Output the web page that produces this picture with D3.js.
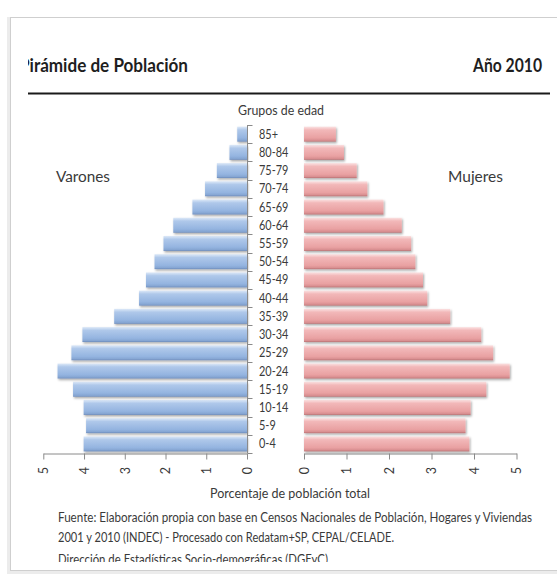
<!DOCTYPE html>
<html>
<head>
<meta charset="utf-8">
<script src="https://cdn.jsdelivr.net/npm/d3@7/dist/d3.min.js"></script>
<style>
  html, body { margin: 0; padding: 0; background: #ffffff; }
  svg { display: block; font-family: Lato, "Open Sans", sans-serif; }
</style>
</head>
<body>
<svg id="chart" width="557" height="574"></svg>
<script>
// Age groups, bottom to top
const ageGroups = ["0-4", "5-9", "10-14", "15-19", "20-24", "25-29", "30-34", "35-39", "40-44",
                   "45-49", "50-54", "55-59", "60-64", "65-69", "70-74", "75-79", "80-84", "85+"];
// Share of total population (%), 2010
const malePct   = [4.01, 3.95, 4.01, 4.27, 4.65, 4.31, 4.04, 3.26, 2.65,
                   2.48, 2.27, 2.05, 1.81, 1.34, 1.03, 0.74, 0.43, 0.24];
const femalePct = [3.89, 3.80, 3.92, 4.29, 4.84, 4.45, 4.17, 3.44, 2.90,
                   2.80, 2.62, 2.52, 2.30, 1.87, 1.49, 1.24, 0.94, 0.75];
const tickValues = [0, 1, 2, 3, 4, 5];

const titleText = "Pirámide de Población";
const yearText = "Año 2010";
const axisTitle = "Grupos de edad";
const xTitle = "Porcentaje de población total";
const sourceLines = [
  "Fuente: Elaboración propia con base en Censos Nacionales de Población, Hogares y Viviendas",
  "2001 y 2010 (INDEC) - Procesado con Redatam+SP, CEPAL/CELADE.",
  "Dirección de Estadísticas Socio-demográficas (DGEyC)"
];

const svg = d3.select("#chart");
const defs = svg.append("defs");

// Card frame with a soft left shadow
svg.append("rect").attr("x", 7).attr("y", 17).attr("width", 560).attr("height", 557)
  .attr("fill", "#ececec");
svg.append("rect").attr("x", 10.5).attr("y", 17.5).attr("width", 560).attr("height", 553)
  .attr("fill", "#ffffff").attr("stroke", "#cfcfcf");

// Gradients for the bevelled bars
function barGradient(id, stops) {
  const g = defs.append("linearGradient").attr("id", id)
    .attr("x1", 0).attr("y1", 0).attr("x2", 0).attr("y2", 1);
  stops.forEach(([o, c]) => g.append("stop").attr("offset", o).attr("stop-color", c));
}
barGradient("gBlue", [[0, "#dde9f8"], [0.22, "#afc8ea"], [0.75, "#94b4e0"], [0.92, "#85a5d2"], [1, "#6a88b8"]]);
barGradient("gPink", [[0, "#fbe2e2"], [0.22, "#f2b8b9"], [0.75, "#e9a1a2"], [0.92, "#d88e90"], [1, "#b56f71"]]);

const shadow = defs.append("filter").attr("id", "shadow")
  .attr("x", "-5%").attr("y", "-20%").attr("width", "115%").attr("height", "160%");
shadow.append("feDropShadow").attr("dx", 1).attr("dy", 1.5).attr("stdDeviation", 0.9)
  .attr("flood-color", "#000").attr("flood-opacity", 0.35);

const clip = defs.append("clipPath").attr("id", "titleClip");
clip.append("rect").attr("x", 28).attr("y", 0).attr("width", 540).attr("height", 120);

// Scales
const xLeft = d3.scaleLinear().domain([0, 5]).range([247, 43.3]);
const xRight = d3.scaleLinear().domain([0, 5]).range([304, 516.5]);
const y = d3.scaleBand().domain(ageGroups.slice().reverse())
  .range([125, 453]).paddingInner(0.18).paddingOuter(0.09);

const textColor = "#3a3a3a";

// Helper: horizontally condensed text
function narrowText(g, str, x, yPos, size, opts = {}) {
  const t = g.append("text")
    .attr("transform", `translate(${x},${yPos}) scale(${opts.sx || 1},1)`)
    .attr("font-size", size)
    .attr("fill", opts.fill || textColor)
    .attr("font-weight", opts.weight || "normal")
    .attr("text-anchor", opts.anchor || "start")
    .text(str);
  if (opts.len) t.attr("textLength", opts.len).attr("lengthAdjust", "spacingAndGlyphs");
  return t;
}

// Header
const header = svg.append("g").attr("clip-path", "url(#titleClip)");
narrowText(header, titleText, 19, 72, 19, { weight: "bold", fill: "#1e1e1e", len: 169 });
narrowText(svg, yearText, 473, 72, 19, { weight: "bold", fill: "#1e1e1e", len: 69 });
svg.append("line").attr("x1", 28).attr("x2", 550).attr("y1", 93.5).attr("y2", 93.5)
  .attr("stroke", "#1a1a1a").attr("stroke-width", 2.2);

// Bars
const data = ageGroups.map((a, i) => ({ age: a, m: malePct[i], f: femalePct[i] }));
const bars = svg.append("g");
bars.selectAll("rect.m").data(data).join("rect").attr("class", "m")
  .attr("x", d => xLeft(d.m)).attr("width", d => xLeft(0) - xLeft(d.m))
  .attr("y", d => y(d.age)).attr("height", y.bandwidth())
  .attr("fill", "url(#gBlue)").attr("filter", "url(#shadow)");
bars.selectAll("rect.f").data(data).join("rect").attr("class", "f")
  .attr("x", xRight(0)).attr("width", d => xRight(d.f) - xRight(0))
  .attr("y", d => y(d.age)).attr("height", y.bandwidth())
  .attr("fill", "url(#gPink)").attr("filter", "url(#shadow)");

// Bottom axes
function bottomAxis(scale) {
  const g = svg.append("g").attr("transform", "translate(0,453.5)")
    .call(d3.axisBottom(scale).tickValues(tickValues).tickSize(6).tickSizeOuter(0).tickFormat(d3.format("d")));
  g.select(".domain").attr("stroke", "#8a8a8a");
  g.selectAll(".tick line").attr("stroke", "#8a8a8a");
  g.selectAll(".tick text")
    .attr("font-family", "Lato, sans-serif").attr("font-size", 12.5).attr("fill", textColor)
    .attr("y", 0).attr("dy", "0.35em")
    .attr("transform", "translate(0,17) rotate(-90)")
    .attr("text-anchor", "middle");
  return g;
}
bottomAxis(xLeft);
bottomAxis(xRight);

// Vertical axis between the halves, ticks at group boundaries
const step = y.step();
const gap = (step - y.bandwidth()) / 2;
const boundaries = ageGroups.map(a => y(a) - gap).concat([y(ageGroups[0]) + y.bandwidth() + gap]);
const vAxis = svg.append("g");
vAxis.append("line").attr("x1", 247.5).attr("x2", 247.5)
  .attr("y1", d3.min(boundaries)).attr("y2", d3.max(boundaries)).attr("stroke", "#8a8a8a");
vAxis.selectAll("line.t").data(boundaries).join("line").attr("class", "t")
  .attr("x1", 247.5).attr("x2", 252.5).attr("y1", d => Math.round(d) + 0.5).attr("y2", d => Math.round(d) + 0.5)
  .attr("stroke", "#8a8a8a");

// Age group labels
const labels = svg.append("g");
ageGroups.forEach(a => {
  narrowText(labels, a, 259, y(a) + y.bandwidth() / 2 + 4.5, 13, { sx: 0.84 });
});
narrowText(svg, axisTitle, 238, 115, 13, { len: 86 });

// Series names
narrowText(svg, "Varones", 56, 182, 15.5, { len: 54 });
narrowText(svg, "Mujeres", 448, 182, 15.5, { len: 55 });

// Footer
narrowText(svg, xTitle, 210, 498, 14, { len: 160 });
const footer = svg.append("g");
defs.append("clipPath").attr("id", "footClip")
  .append("rect").attr("x", 0).attr("y", 500).attr("width", 557).attr("height", 62);
footer.attr("clip-path", "url(#footClip)");
narrowText(footer, sourceLines[0], 58, 521.5, 13.5, { len: 474 });
narrowText(footer, sourceLines[1], 58, 541.5, 13.5, { len: 336 });
narrowText(footer, sourceLines[2], 58, 564, 13.5, { len: 270 });
</script>
</body>
</html>
